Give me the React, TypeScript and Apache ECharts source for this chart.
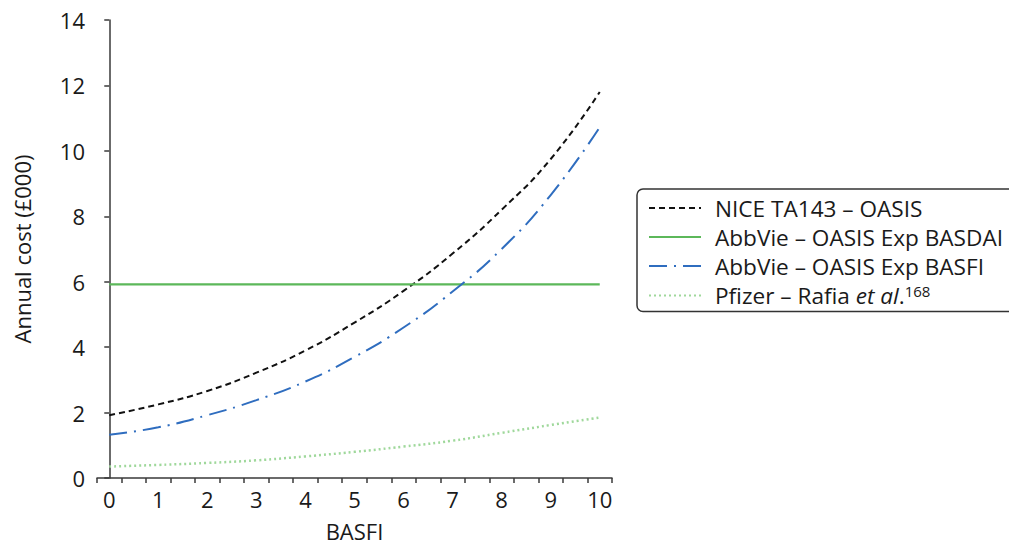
import React, { useEffect, useRef } from "react";
import * as echarts from "echarts";

const basfi = [0, 1, 2, 3, 4, 5, 6, 7, 8, 9, 10];
const niceTa143 = [1.92, 2.25, 2.66, 3.22, 3.9, 4.75, 5.72, 6.86, 8.2, 9.75, 11.8];
const abbvieBasdai = [5.92, 5.92, 5.92, 5.92, 5.92, 5.92, 5.92, 5.92, 5.92, 5.92, 5.92];
const abbvieBasfi = [1.32, 1.55, 1.92, 2.38, 2.95, 3.7, 4.6, 5.7, 7.0, 8.65, 10.72];
const pfizerRafia = [0.35, 0.4, 0.46, 0.54, 0.66, 0.8, 0.96, 1.14, 1.38, 1.62, 1.85];

const seriesNames = [
  "NICE TA143 – OASIS",
  "AbbVie – OASIS Exp BASDAI",
  "AbbVie – OASIS Exp BASFI",
  "Pfizer – Rafia et al.168",
];
const yTicks = { min: 0, max: 14, interval: 2 };
const xRange = { min: -0.25, max: 10.25, tickStep: 0.5, labelStep: 0.25 };
const yName = "Annual cost (£000)";
const xName = "BASFI";

const FONT = "Open Sans";
const TXT = "#1a1a1a";
const AX = "#3a3a3a";
const LEG_FS = 22.6;

function pairs(ys: number[]) {
  return basfi.map((x, i) => [x, ys[i]]);
}

export default function App() {
  const ref = useRef<HTMLDivElement>(null);
  useEffect(() => {
    if (!ref.current) return;
    const chart = echarts.init(ref.current, undefined, { renderer: "svg" });
    chart.setOption({
      animation: false,
      backgroundColor: "#ffffff",
      textStyle: { fontFamily: FONT },
      grid: { left: 97, right: 397, top: 20, bottom: 66, containLabel: false },
      xAxis: [
        {
          type: "value",
          min: xRange.min,
          max: xRange.max,
          interval: xRange.labelStep,
          position: "bottom",
          axisLine: { show: false },
          axisTick: { show: false },
          splitLine: { show: false },
          axisLabel: {
            show: true,
            margin: 10,
            color: TXT,
            fontSize: 22,
            fontFamily: FONT,
            formatter: (v: number) =>
              Math.abs(v - Math.round(v)) < 1e-6 && v >= 0 ? String(Math.round(v)) : "",
          },
          name: xName,
          nameLocation: "middle",
          nameGap: 42,
          nameTextStyle: { color: TXT, fontSize: 22, fontFamily: FONT },
        },
        {
          type: "value",
          min: xRange.min,
          max: xRange.max,
          interval: xRange.tickStep,
          position: "bottom",
          offset: 0,
          axisLine: { show: true, lineStyle: { color: AX, width: 1.5 } },
          axisTick: { show: true, inside: false, length: 5, lineStyle: { color: AX, width: 1.5 } },
          axisLabel: { show: false },
          splitLine: { show: false },
        },
      ],
      yAxis: {
        type: "value",
        min: yTicks.min,
        max: yTicks.max,
        interval: yTicks.interval,
        axisLine: { show: true, lineStyle: { color: AX, width: 1.5 } },
        axisTick: { show: true, inside: false, length: 5, lineStyle: { color: AX, width: 1.5 } },
        splitLine: { show: false },
        axisLabel: { margin: 12, color: TXT, fontSize: 22, fontFamily: FONT },
        name: yName,
        nameLocation: "middle",
        nameGap: 64,
        nameRotate: 90,
        nameTextStyle: { color: TXT, fontSize: 22, fontFamily: FONT },
      },
      legend: {
        orient: "vertical",
        left: 637,
        top: 189,
        padding: [7, 90, 4, 11],
        itemWidth: 52,
        itemHeight: 14,
        itemGap: 5,
        borderColor: "#333333",
        borderWidth: 1.5,
        borderRadius: 6,
        itemStyle: { opacity: 0 },
        data: seriesNames,
        textStyle: {
          color: TXT,
          fontSize: LEG_FS,
          fontFamily: FONT,
          lineHeight: 24,
          padding: [0, 0, 0, 9],
          rich: {
            n: { color: TXT, fontSize: LEG_FS, fontFamily: FONT },
            i: { color: TXT, fontSize: LEG_FS, fontFamily: FONT, fontStyle: "italic" },
            s: { color: TXT, fontSize: 15, fontFamily: FONT, padding: [0, 0, 10, 0] },
          },
        },
        formatter: (name: string) =>
          name === seriesNames[3] ? "{n|Pfizer – Rafia }{i|et al}{n|.}{s|168}" : name,
      },
      series: [
        {
          name: seriesNames[0],
          type: "line",
          xAxisIndex: 0,
          data: pairs(niceTa143),
          smooth: 0.5,
          symbol: "none",
          lineStyle: { color: "#111111", width: 2, type: [6, 4] },
          itemStyle: { color: "#111111" },
        },
        {
          name: seriesNames[1],
          type: "line",
          xAxisIndex: 0,
          data: pairs(abbvieBasdai),
          symbol: "none",
          lineStyle: { color: "#5cb85a", width: 2.2, type: "solid" },
          itemStyle: { color: "#5cb85a" },
        },
        {
          name: seriesNames[2],
          type: "line",
          xAxisIndex: 0,
          data: pairs(abbvieBasfi),
          smooth: 0.5,
          symbol: "none",
          lineStyle: { color: "#2f6dbf", width: 2, type: [18, 7, 2, 7] },
          itemStyle: { color: "#2f6dbf" },
        },
        {
          name: seriesNames[3],
          type: "line",
          xAxisIndex: 0,
          data: pairs(pfizerRafia),
          smooth: 0.5,
          symbol: "none",
          lineStyle: { color: "#9fd89b", width: 2.5, type: [2, 3] },
          itemStyle: { color: "#9fd89b" },
        },
      ],
    });
    return () => chart.dispose();
  }, []);
  return (
    <div
      ref={ref}
      style={{ position: "fixed", left: 0, top: 0, width: 1009, height: 547, background: "#fff" }}
    />
  );
}
